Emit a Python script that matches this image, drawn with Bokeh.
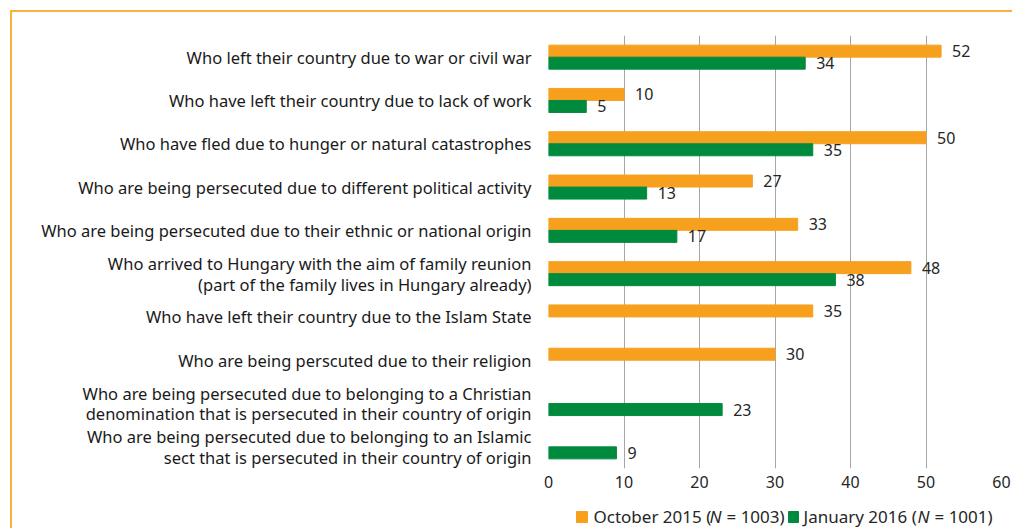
from bokeh.plotting import figure
from bokeh.models import ColumnDataSource, FactorRange, Range1d
from bokeh.layouts import column
from bokeh.transform import dodge
from bokeh.core.properties import value
from bokeh.embed import file_html
from bokeh.resources import INLINE

categories = [
    "Who left their country due to war or civil war",
    "Who have left their country due to lack of work",
    "Who have fled due to hunger or natural catastrophes",
    "Who are being persecuted due to different political activity",
    "Who are being persecuted due to their ethnic or national origin",
    "Who arrived to Hungary with the aim of family reunion\n(part of the family lives in Hungary already)",
    "Who have left their country due to the Islam State",
    "Who are being perscuted due to their religion",
    "Who are being persecuted due to belonging to a Christian\ndenomination that is persecuted in their country of origin",
    "Who are being persecuted due to belonging to an Islamic\nsect that is persecuted in their country of origin",
]
october_2015 = [52, 10, 50, 27, 33, 48, 35, 30, None, None]
january_2016 = [34, 5, 35, 13, 17, 38, None, None, 23, 9]
x_ticks = [0, 10, 20, 30, 40, 50, 60]
series_names = ["October 2015 (", "January 2016 ("]
series_n = ["= 1003)", "= 1001)"]

ORANGE = "#F7A01E"
GREEN = "#008A3E"
BORDER = "#FBB040"
FONT = "Noto Sans"

# page geometry
OX, OY = 12, 12            # content origin inside the orange border
PW, PH = 1012, 528
FL, FR, FT, FB = 548, 1001, 35, 468   # frame edges (page px)
MAIN_BOTTOM = 496                     # page y where main figure ends

W = PW - OX
H1 = MAIN_BOTTOM - OY
H2 = PH - MAIN_BOTTOM


def src(vals):
    c = [k for k, v in zip(categories, vals) if v is not None]
    v = [v for v in vals if v is not None]
    return ColumnDataSource(dict(cat=c, val=v, lab=[str(x) for x in v]))


s_oct = src(october_2015)
s_jan = src(january_2016)

p = figure(width=W, height=H1, output_backend="svg", toolbar_location=None,
           y_range=FactorRange(factors=list(reversed(categories)), range_padding=0),
           x_range=(0, 60), min_border_left=FL - OX, min_border_right=PW - FR,
           min_border_top=FT - OY, min_border_bottom=MAIN_BOTTOM - FB)

p.hbar(y=dodge("cat", 0.139, range=p.y_range), right="val", left=0, height=0.277,
       source=s_oct, color=ORANGE)
p.hbar(y=dodge("cat", -0.139, range=p.y_range), right="val", left=0, height=0.277,
       source=s_jan, color=GREEN)

for s, off in ((s_oct, 0.139), (s_jan, -0.139)):
    p.text(x="val", y=dodge("cat", off, range=p.y_range), text="lab", source=s,
           x_offset=11, text_baseline="middle", text_font=value(FONT),
           text_font_size="16px", text_color="#262626")

p.outline_line_color = None
p.ygrid.grid_line_color = None
p.xgrid.grid_line_color = "#A6A6A6"
p.xgrid.ticker = x_ticks
p.xaxis.ticker = x_ticks
p.xaxis.axis_line_color = None
p.xaxis.major_tick_line_color = None
p.xaxis.minor_tick_line_color = None
p.xaxis.major_tick_out = 0
p.xaxis.major_label_standoff = 7
p.xaxis.major_label_text_font = FONT
p.xaxis.major_label_text_font_size = "16px"
p.xaxis.major_label_text_color = "#262626"
p.yaxis.axis_line_color = None
p.yaxis.major_tick_line_color = None
p.yaxis.major_tick_out = 0
p.yaxis.major_label_standoff = 17
p.yaxis.major_label_text_font = FONT
p.yaxis.major_label_text_font_size = "16.5px"
p.yaxis.major_label_text_color = "#1a1a1a"
p.yaxis.major_label_text_align = "right"
p.yaxis.major_label_text_line_height = 0.9

# legend strip: frame aligned with the main frame, coordinates = page pixels
lg = figure(width=W, height=H2, output_backend="svg", toolbar_location=None,
            x_range=Range1d(FL, FR), y_range=Range1d(PH, MAIN_BOTTOM),
            min_border_left=FL - OX, min_border_right=PW - FR,
            min_border_top=0, min_border_bottom=0)
lg.axis.visible = False
lg.grid.visible = False
lg.outline_line_color = None

lg.quad(left=[576, 788], right=[587, 798], top=[511, 511], bottom=[522, 522],
        color=[ORANGE, GREEN])
tk = dict(text_baseline="middle", text_font=value(FONT), text_font_size="17px",
          text_color="#262626")
lg.text(x=[593, 803], y=[516, 516], text=series_names, **tk)
lg.text(x=[709, 917], y=[516, 516], text=["N", "N"], text_font_style="italic", **tk)
lg.text(x=[726, 934], y=[516, 516], text=series_n, **tk)

layout = column(p, lg, margin=(10, 0, 0, 10),
                styles={"border-left": "2px solid " + BORDER,
                        "border-top": "2px solid " + BORDER})

open("out.html", "w").write(file_html(layout, INLINE))
